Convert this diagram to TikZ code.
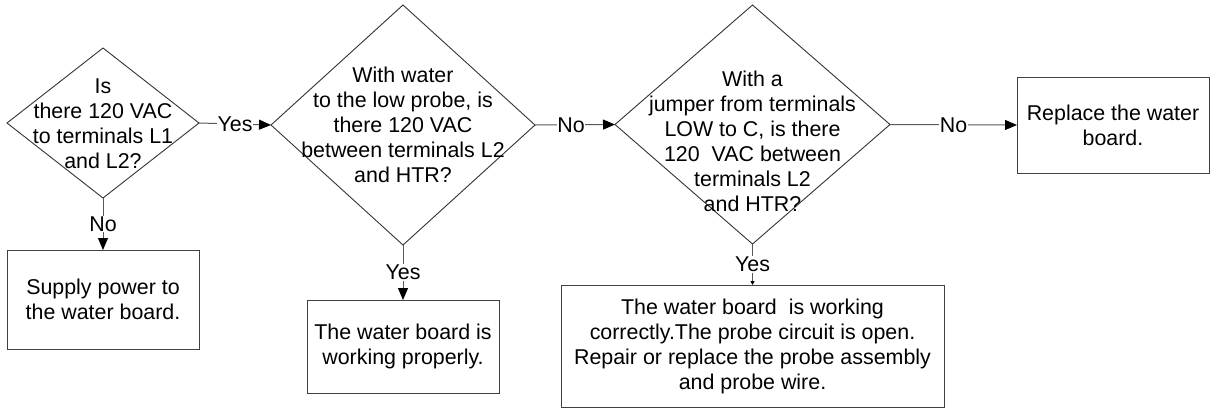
\documentclass[tikz,border=0pt]{standalone}
\usepackage{fontspec}
\setmainfont{Liberation Sans}
\usetikzlibrary{shapes.geometric,arrows.meta}
\begin{document}
\begin{tikzpicture}[x=1pt,y=-1pt,
  every node/.style={font=\fontsize{21.4}{25}\selectfont, text=black},
  dia/.style={draw=black!80, line width=0.9pt, diamond, inner sep=0pt, outer sep=0pt},
  box/.style={draw=black!75, line width=1pt, rectangle, inner sep=0pt, outer sep=0pt, align=center},
  txt/.style={align=center, inner sep=0pt},
  conn/.style={draw=black!65, line width=1pt, -{Triangle[length=12pt,width=10pt,black]}},
  conns/.style={draw=black!65, line width=1pt, -{Triangle[length=4pt,width=4pt,black]}},
  lbl/.style={fill=white, inner sep=0.6pt}]
\useasboundingbox (0,0) rectangle (1214,408);
% decisions
\node[dia, minimum width=192pt, minimum height=150pt] (d1) at (103,123) {};
\node[txt] (t1) at (103,123.5) {Is\\there 120 VAC\\to terminals L1\\and L2?};
\node[dia, minimum width=264pt, minimum height=240pt] (d2) at (403,125) {};
\node[txt] (t2) at (403,125) {With water\\to the low probe, is\\there 120 VAC\\between terminals L2\\and HTR?};
\node[dia, minimum width=275pt, minimum height=239pt] (d3) at (752.5,124.5) {};
\node[txt] (t3) at (752.5,141.5) {With a\\jumper from terminals\\LOW to C, is there\\120 \ VAC between\\terminals L2\\and HTR?};
% outcomes
\node[box, minimum width=192pt, minimum height=99pt] (b1) at (103,299.5) {Supply power to\\the water board.};
\node[box, minimum width=192pt, minimum height=93pt] (b2) at (403,346.5) {The water board is\\working properly.};
\node[box, minimum width=383pt, minimum height=122pt] (b3) at (752.5,346) {The water board \ is working\\correctly.The probe circuit is open.\\Repair or replace the probe assembly\\and probe wire.};
\node[box, minimum width=192pt, minimum height=96pt] (b4) at (1113,125) {Replace the water\\board.};
% connectors
\draw[conn] (d1.east) -- node[lbl] (l1) {Yes} (d2.west);
\draw[conn] (d1.south) -- node[lbl] (l2) {No} (b1.north);
\draw[conn] (d2.east) -- node[lbl, pos=0.45] (l3) {No} (d3.west);
\draw[conn] (d2.south) -- node[lbl] (l4) {Yes} (b2.north);
\draw[conn] (d3.east) -- node[lbl] (l5) {No} (b4.west);
\draw[conns] (d3.south) -- node[lbl] (l6) {Yes} (b3.north);
\end{tikzpicture}
\end{document}
